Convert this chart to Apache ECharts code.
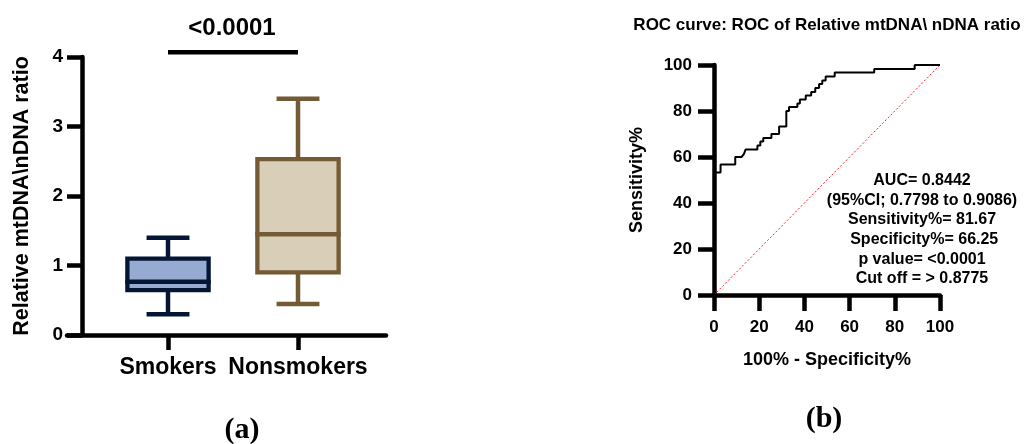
<!DOCTYPE html>
<html>
<head>
<meta charset="utf-8">
<script src="https://cdn.jsdelivr.net/npm/echarts@6/dist/echarts.min.js"></script>
<style>
html,body{margin:0;padding:0;background:#fff;}
#chart{width:1024px;height:444px;}
</style>
</head>
<body>
<div id="chart"></div>
<script>
// ---- Panel (a): box plot data ----
const categories = ['Smokers', 'Nonsmokers'];
const boxLow    = [0.30, 0.445];
const boxQ1     = [0.647, 0.90];
const boxMedian = [0.766, 1.45];
const boxQ3     = [1.10, 2.53];
const boxHigh   = [1.40, 3.40];
const sigLevel  = 4.07;
const sigText   = '<0.0001';
const leftYTickMin = 0, leftYTickMax = 4, leftYTickStep = 1;

// ---- Panel (b): ROC curve data (corners of step curve) ----
const rocX = [0, 0, 2.9, 2.9, 9.4, 9.4, 12.2, 13.2, 14.0, 14.0, 19.2, 19.2, 20.5, 20.5, 21.8, 21.8, 25.4, 25.4, 28.8, 28.8, 32.0, 32.0, 33.2, 33.2, 36.9, 36.9, 38.0, 38.0, 40.6, 40.6, 43.0, 43.0, 44.8, 44.8, 46.5, 46.5, 47.9, 47.9, 49.4, 49.4, 53.4, 53.4, 70.9, 70.9, 88.8, 88.8, 100];
const rocY = [0, 53.3, 53.3, 56.7, 56.7, 60, 60, 61.2, 61.7, 63.3, 63.3, 65, 65, 66.7, 66.7, 68.3, 68.3, 70, 70, 73.3, 73.3, 80, 80, 81.7, 81.7, 83.3, 83.3, 85, 85, 86.7, 86.7, 88.3, 88.3, 90, 90, 91.7, 91.7, 93.3, 93.3, 95, 95, 96.7, 96.7, 98.3, 98.3, 100, 100];
const refX = [0, 100];
const refY = [0, 100];
const rocTickMin = 0, rocTickMax = 100, rocTickStep = 20;
const rocTitle = 'ROC curve: ROC of Relative mtDNA\\ nDNA ratio';
const rocStats = ['AUC= 0.8442', '(95%CI; 0.7798 to 0.9086)', 'Sensitivity%= 81.67', ' Specificity%= 66.25', 'p value= <0.0001', 'Cut off = > 0.8775'];

// ---- styles ----
const FONT = "'Liberation Sans', Arial, sans-serif";
const boxFill   = ['#97aad2', '#d9ceb8'];
const boxStroke = ['#041634', '#735b35'];

const boxData = categories.map((c, i) => [i, boxLow[i], boxQ1[i], boxMedian[i], boxQ3[i], boxHigh[i]]);
const rocData = rocX.map((x, i) => [x, rocY[i]]);
const refData = refX.map((x, i) => [x, refY[i]]);

const chart = echarts.init(document.getElementById('chart'), null, {renderer: 'canvas'});

const axisLbl = (size) => ({color: '#000', fontWeight: 'bold', fontFamily: FONT, fontSize: size});

const option = {
  animation: false,
  backgroundColor: '#fff',
  grid: [
    {left: 103, width: 260, top: 57, height: 278, containLabel: false, outerBoundsMode: 'none'},
    {left: 67, width: 319, top: 57, height: 278, containLabel: false, outerBoundsMode: 'none'},
    {left: 714, width: 226, top: 65, height: 230, containLabel: false, outerBoundsMode: 'none'}
  ],
  xAxis: [
    {
      gridIndex: 0, type: 'category', data: categories,
      axisLine: {show: false},
      axisTick: {show: true, alignWithLabel: true, length: 15, lineStyle: {color: '#000', width: 4.5}},
      axisLabel: Object.assign(axisLbl(23), {margin: 21, interval: 0}),
      splitLine: {show: false}
    },
    {
      gridIndex: 1, type: 'value', min: 0, max: 1,
      axisLine: {show: true, lineStyle: {color: '#000', width: 4.5}},
      axisTick: {show: false}, axisLabel: {show: false}, splitLine: {show: false}
    },
    {
      gridIndex: 2, type: 'value', min: rocTickMin, max: rocTickMax, interval: rocTickStep,
      axisLine: {show: true, lineStyle: {color: '#000', width: 4.5}},
      axisTick: {show: true, length: 16, lineStyle: {color: '#000', width: 4.5}},
      axisLabel: Object.assign(axisLbl(17), {margin: 24}),
      splitLine: {show: false},
      name: '100% - Specificity%', nameLocation: 'middle', nameGap: 56,
      nameTextStyle: axisLbl(18)
    }
  ],
  yAxis: [
    {
      gridIndex: 0, type: 'value', min: leftYTickMin, max: leftYTickMax, interval: leftYTickStep,
      offset: 21,
      axisLine: {show: true, lineStyle: {color: '#000', width: 4.5}},
      axisTick: {show: true, length: 15, lineStyle: {color: '#000', width: 4.5}},
      axisLabel: Object.assign(axisLbl(19), {margin: 19}),
      splitLine: {show: false},
      name: 'Relative mtDNA\\nDNA ratio', nameLocation: 'middle', nameGap: 49, nameRotate: 90,
      nameTextStyle: axisLbl(21.5)
    },
    {gridIndex: 1, type: 'value', show: false, min: 0, max: 1},
    {
      gridIndex: 2, type: 'value', min: rocTickMin, max: rocTickMax, interval: rocTickStep,
      axisLine: {show: true, lineStyle: {color: '#000', width: 4.5}},
      axisTick: {show: true, length: 16, lineStyle: {color: '#000', width: 4.5}},
      axisLabel: Object.assign(axisLbl(17), {margin: 22}),
      splitLine: {show: false},
      name: 'Sensitivity%', nameLocation: 'middle', nameGap: 68, nameRotate: 90,
      nameTextStyle: axisLbl(18)
    }
  ],
  series: [
    {
      type: 'custom', xAxisIndex: 0, yAxisIndex: 0, data: boxData,
      encode: {x: 0, y: [1, 2, 3, 4, 5]},
      renderItem: function (params, api) {
        const i = api.value(0);
        const band = api.size([1, 0])[0];
        const bw = band * 0.625, cw = band * 0.33;
        const x = api.coord([i, 0])[0];
        const yLow = api.coord([i, api.value(1)])[1];
        const yQ1 = api.coord([i, api.value(2)])[1];
        const yMed = api.coord([i, api.value(3)])[1];
        const yQ3 = api.coord([i, api.value(4)])[1];
        const yHigh = api.coord([i, api.value(5)])[1];
        const st = boxStroke[params.dataIndex], fl = boxFill[params.dataIndex];
        const ls = {stroke: st, lineWidth: 4.5, fill: null};
        return {
          type: 'group',
          children: [
            {type: 'line', shape: {x1: x, y1: yQ3, x2: x, y2: yHigh}, style: ls},
            {type: 'line', shape: {x1: x, y1: yQ1, x2: x, y2: yLow}, style: ls},
            {type: 'line', shape: {x1: x - cw / 2, y1: yHigh, x2: x + cw / 2, y2: yHigh}, style: ls},
            {type: 'line', shape: {x1: x - cw / 2, y1: yLow, x2: x + cw / 2, y2: yLow}, style: ls},
            {type: 'rect', shape: {x: x - bw / 2, y: yQ3, width: bw, height: yQ1 - yQ3}, style: {fill: fl, stroke: st, lineWidth: 4.3}},
            {type: 'line', shape: {x1: x - bw / 2 - 2, y1: yMed, x2: x + bw / 2 + 2, y2: yMed}, style: ls}
          ]
        };
      }
    },
    {
      type: 'line', xAxisIndex: 0, yAxisIndex: 0, clip: false,
      data: [[0, sigLevel], [1, sigLevel]], symbol: 'none',
      lineStyle: {color: '#000', width: 4.5}, silent: true
    },
    {
      type: 'line', xAxisIndex: 2, yAxisIndex: 2, data: refData, symbol: 'none',
      lineStyle: {color: '#ff2020', width: 1, type: [2, 2]}, silent: true
    },
    {
      type: 'line', xAxisIndex: 2, yAxisIndex: 2, data: rocData, symbol: 'none',
      lineStyle: {color: '#000', width: 2}, silent: true, clip: false
    }
  ],
  graphic: [
    {type: 'text', x: 232, y: 28, style: {text: sigText, align: 'center', verticalAlign: 'middle', textAlign: 'center', textVerticalAlign: 'middle', font: 'bold 24px ' + FONT, fill: '#000'}},
    {type: 'text', x: 827, y: 25, style: {text: rocTitle, align: 'center', verticalAlign: 'middle', textAlign: 'center', textVerticalAlign: 'middle', font: 'bold 17px ' + FONT, fill: '#000'}},
    {type: 'text', x: 922, y: 171, style: {text: rocStats.join('\n'), align: 'center', verticalAlign: 'top', textAlign: 'center', textVerticalAlign: 'top', font: 'bold 16px ' + FONT, lineHeight: 19.6, fill: '#000'}},
    {type: 'text', x: 242, y: 430, style: {text: '(a)', align: 'center', verticalAlign: 'middle', textAlign: 'center', textVerticalAlign: 'middle', font: "bold 30px 'Liberation Serif', 'Times New Roman', serif", fill: '#000'}},
    {type: 'text', x: 824, y: 419, style: {text: '(b)', align: 'center', verticalAlign: 'middle', textAlign: 'center', textVerticalAlign: 'middle', font: "bold 30px 'Liberation Serif', 'Times New Roman', serif", fill: '#000'}}
  ]
};
chart.setOption(option);
</script>
</body>
</html>
